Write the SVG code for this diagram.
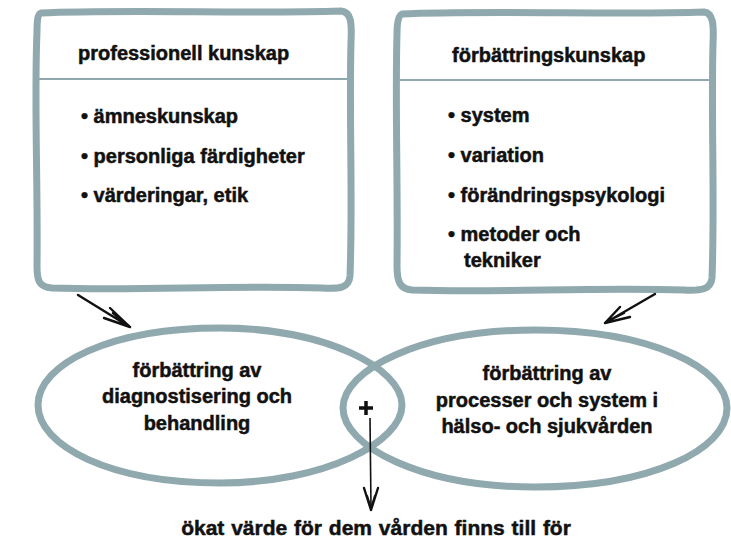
<svg xmlns="http://www.w3.org/2000/svg" width="731" height="540" viewBox="0 0 731 540">
  <style>
    .frame { fill: #ffffff; stroke: #8fa9ae; stroke-width: 7; stroke-linejoin: round; }
    .rule { stroke: #8fa9ae; stroke-width: 2.2; fill: none; }
    .oval { fill: none; stroke: #8fa9ae; stroke-width: 7; }
    .ink { fill: none; stroke: #111111; stroke-width: 2.4; stroke-linecap: round; stroke-linejoin: round; }
    .plus { fill: none; stroke: #111111; stroke-width: 3.5; }
    .shaft { fill: none; stroke: #111111; stroke-width: 1.6; }
    text { font-family: "Liberation Sans", Arial, sans-serif; font-weight: bold; font-size: 20px; fill: #111111; stroke: #111111; stroke-width: 0.5; }
    .mid { text-anchor: middle; }
    .foot { font-size: 21px; word-spacing: 1px; }
  </style>

  <!-- left knowledge box -->
  <g id="professionell">
    <path class="frame" d="M41,13 C120,9 250,14 341,11 C351,12 352,22 351,42 C349,120 353,200 350,276 C349,288 340,289 322,288 C230,285 140,291 52,288 C39,287 37,281 37,266 C38,180 34,100 37,32 C37,19 38,14 41,13 Z"/>
    <line class="rule" x1="39" y1="79" x2="349" y2="79"/>
    <text x="78" y="60">professionell kunskap</text>
    <text x="81" y="123">• ämneskunskap</text>
    <text x="81" y="163">• personliga färdigheter</text>
    <text x="81" y="202">• värderingar, etik</text>
  </g>

  <!-- right knowledge box -->
  <g id="forbattringskunskap">
    <path class="frame" d="M402,14 C480,10 620,15 704,12 C713,13 714,24 713,44 C711,120 715,200 712,278 C711,289 702,291 684,290 C590,287 500,293 412,290 C400,289 397,282 397,266 C398,180 395,100 397,34 C397,20 399,15 402,14 Z"/>
    <line class="rule" x1="399" y1="80" x2="711" y2="80"/>
    <text x="452" y="62">förbättringskunskap</text>
    <text x="448" y="122">• system</text>
    <text x="448" y="162">• variation</text>
    <text x="448" y="202">• förändringspsykologi</text>
    <text x="448" y="241">• metoder och</text>
    <text x="464" y="267">tekniker</text>
  </g>

  <!-- overlapping improvement areas -->
  <g id="diagnostik">
    <path class="oval" d="M220,328 C325,328 402,368 402,405 C402,442 325,483 220,483 C110,483 38,446 38,405 C38,364 110,328 220,328 Z"/>
    <text class="mid" x="197" y="377">förbättring av</text>
    <text class="mid" x="197" y="403">diagnostisering och</text>
    <text class="mid" x="197" y="430">behandling</text>
  </g>

  <g id="processer">
    <path class="oval" d="M535,330 C650,330 727,368 727,408 C727,450 650,487 535,487 C420,487 343,446 343,408 C343,370 420,330 535,330 Z"/>
    <text class="mid" x="547" y="380">förbättring av</text>
    <text class="mid" x="547" y="407">processer och system i</text>
    <text class="mid" x="547" y="433">hälso- och sjukvården</text>
  </g>

  <g id="resultat">
    <path class="plus" d="M359,408 H373 M366,401 V415"/>
    <text class="mid foot" x="376" y="535">ökat värde för dem vården finns till för</text>
  </g>

  <!-- connectors -->
  <g id="connectors">
    <path class="ink" d="M78,295 L130,327 M110,308 L130,327 M104,318 L130,327 M113,313 L129,326"/>
    <path class="ink" d="M655,294 L605,323 M620,307 L605,323 M630,317 L605,323 M624,313 L606,322"/>
    <path class="shaft" d="M370,418 L371,508"/>
    <path class="ink" d="M364,488 L371,510 M378,488 L371,510 M367,496 L371,509 M375,496 L371,509"/>
  </g>
</svg>
